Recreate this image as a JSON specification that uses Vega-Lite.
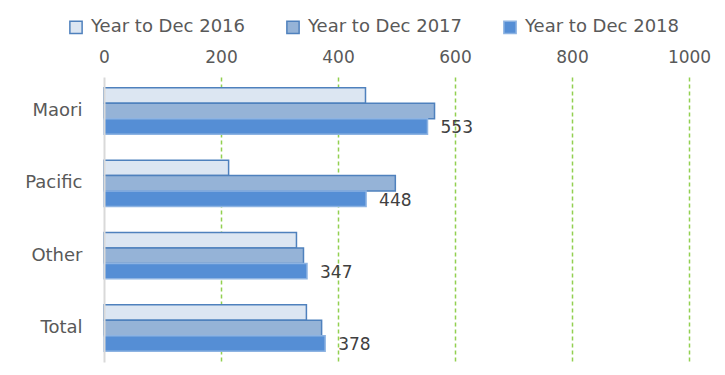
{
  "$schema": "https://vega.github.io/schema/vega-lite/v6.json",
  "width": 585,
  "height": 285,
  "autosize": {"type": "none"},
  "padding": {"left": 104, "top": 77, "right": 36, "bottom": 13},
  "background": "#ffffff",
  "config": {
    "view": {"stroke": null},
    "font": "DejaVu Sans",
    "axis": {"labelFont": "DejaVu Sans", "labelFontSize": 17, "labelColor": "#595959", "ticks": false, "tickSize": 0, "title": null},
    "legend": {"labelFont": "DejaVu Sans", "labelFontSize": 18, "labelColor": "#595959"}
  },
  "data": {
    "values": [
      {"group": "Maori", "year": "Year to Dec 2016", "value": 447},
      {"group": "Maori", "year": "Year to Dec 2017", "value": 565},
      {"group": "Maori", "year": "Year to Dec 2018", "value": 553},
      {"group": "Pacific", "year": "Year to Dec 2016", "value": 213},
      {"group": "Pacific", "year": "Year to Dec 2017", "value": 498},
      {"group": "Pacific", "year": "Year to Dec 2018", "value": 448},
      {"group": "Other", "year": "Year to Dec 2016", "value": 329},
      {"group": "Other", "year": "Year to Dec 2017", "value": 341},
      {"group": "Other", "year": "Year to Dec 2018", "value": 347},
      {"group": "Total", "year": "Year to Dec 2016", "value": 346},
      {"group": "Total", "year": "Year to Dec 2017", "value": 372},
      {"group": "Total", "year": "Year to Dec 2018", "value": 378}
    ]
  },
  "encoding": {
    "y": {
      "field": "group",
      "type": "nominal",
      "sort": ["Maori", "Pacific", "Other", "Total"],
      "scale": {"paddingInner": 0.36, "paddingOuter": 0.15},
      "axis": {"domain": true, "domainColor": "#d9d9d9", "domainWidth": 2, "labelPadding": 22, "labelFontSize": 18, "zindex": 1}
    },
    "yOffset": {
      "field": "year",
      "type": "nominal",
      "sort": ["Year to Dec 2016", "Year to Dec 2017", "Year to Dec 2018"],
      "scale": {"paddingInner": 0, "paddingOuter": 0}
    },
    "x": {
      "field": "value",
      "type": "quantitative",
      "scale": {"domain": [0, 1000], "nice": false},
      "axis": {
        "orient": "top",
        "values": [0, 200, 400, 600, 800, 1000],
        "format": "d",
        "labelFlush": false,
        "domain": false,
        "grid": true,
        "gridColor": "#92d050",
        "gridDash": [4, 3],
        "gridWidth": 1.5,
        "gridOpacity": {"condition": {"test": "datum.value === 0", "value": 0}, "value": 1},
        "labelPadding": 11
      }
    }
  },
  "layer": [
    {
      "mark": {"type": "bar", "strokeWidth": 1.5},
      "encoding": {
        "color": {
          "field": "year",
          "type": "nominal",
          "title": null,
          "scale": {"domain": ["Year to Dec 2016", "Year to Dec 2017", "Year to Dec 2018"], "range": ["#dce6f2", "#95b3d7", "#558ed5"]},
          "legend": {
            "orient": "none",
            "legendX": -37,
            "legendY": -59,
            "direction": "horizontal",
            "columns": 3,
            "symbolType": "square",
            "symbolSize": 150,
            "symbolStrokeWidth": 1.5,
            "symbolOpacity": 1,
            "labelOffset": 6,
            "columnPadding": 38
          }
        },
        "stroke": {
          "field": "year",
          "type": "nominal",
          "title": null,
          "scale": {"domain": ["Year to Dec 2016", "Year to Dec 2017", "Year to Dec 2018"], "range": ["#4f81bd", "#4f81bd", "#8db3e2"]}
        }
      }
    },
    {
      "transform": [{"filter": "datum.year === 'Year to Dec 2018'"}],
      "mark": {"type": "text", "align": "left", "baseline": "middle", "dx": 13, "dy": 2, "fontSize": 17, "color": "#404040", "font": "DejaVu Sans"},
      "encoding": {
        "text": {"field": "value", "type": "quantitative"}
      }
    }
  ]
}
